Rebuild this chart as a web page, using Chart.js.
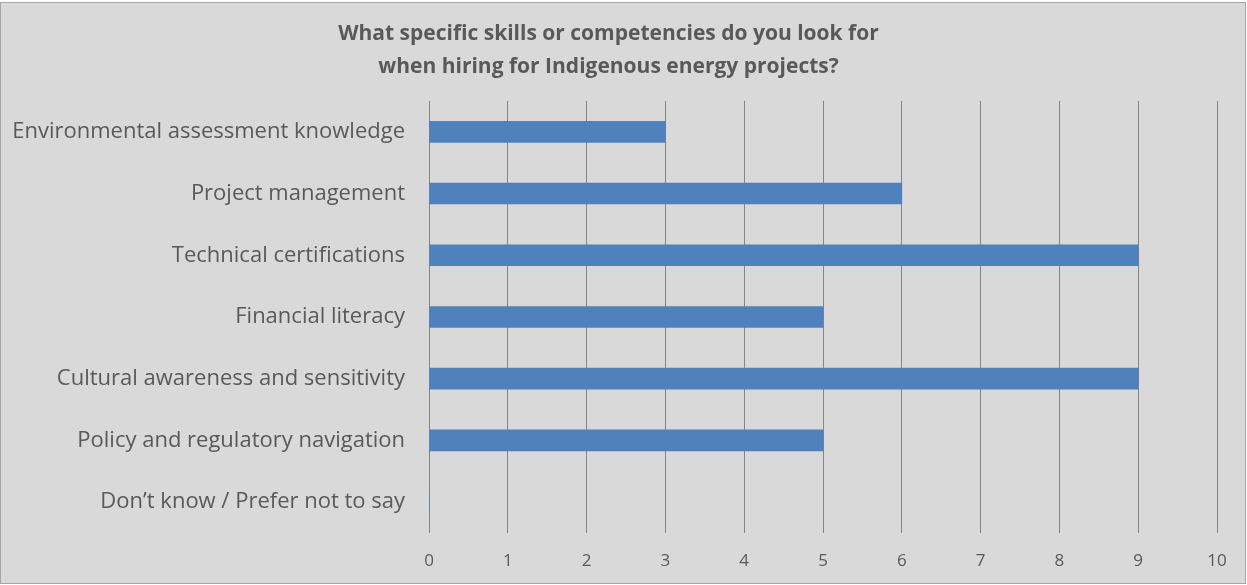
<!DOCTYPE html>
<html>
<head>
<meta charset="utf-8">
<script src="https://cdn.jsdelivr.net/npm/chart.js@4/dist/chart.umd.min.js"></script>
<style>
  html, body { margin: 0; padding: 0; background: #fff; }
  #wrap { width: 1247px; height: 585px; }
</style>
</head>
<body>
<div id="wrap"><canvas id="skillsChart" width="1247" height="585"></canvas></div>
<script>
// 回答データ
const skills = [
  "Environmental assessment knowledge",
  "Project management",
  "Technical certifications",
  "Financial literacy",
  "Cultural awareness and sensitivity",
  "Policy and regulatory navigation",
  "Don\u2019t know / Prefer not to say"
];
const counts = [3, 6, 9, 5, 9, 5, 0];
const xTicks = [0, 1, 2, 3, 4, 5, 6, 7, 8, 9, 10];

const textColor = "#595959";
const fontFamily = "'Open Sans', sans-serif";

// 背景と枠線
const frame = {
  id: "frame",
  beforeDraw(chart) {
    const ctx = chart.ctx;
    ctx.save();
    ctx.fillStyle = "#d9d9d9";
    ctx.fillRect(1, 3, chart.width - 3, chart.height - 5);
    ctx.strokeStyle = "#a6a6a6";
    ctx.lineWidth = 1;
    ctx.strokeRect(0.5, 2.5, chart.width - 2, chart.height - 4);
    ctx.restore();
  }
};

new Chart(document.getElementById("skillsChart"), {
  type: "bar",
  data: {
    labels: skills,
    datasets: [{
      data: counts,
      backgroundColor: "#4f81bd",
      barThickness: 21
    }]
  },
  plugins: [frame],
  options: {
    indexAxis: "y",
    responsive: false,
    animation: false,
    layout: { padding: { left: 0, right: 30, top: 0, bottom: 0 } },
    plugins: {
      legend: { display: false },
      tooltip: { enabled: false },
      title: {
        display: true,
        text: ["What specific skills or competencies do you look for", "when hiring for Indigenous energy projects?"],
        color: textColor,
        font: { family: fontFamily, size: 21, weight: "bold", lineHeight: 1.57 },
        padding: { top: 18, bottom: 17 }
      }
    },
    scales: {
      x: {
        min: 0,
        max: 10,
        afterBuildTicks(scale) { scale.ticks = xTicks.map(v => ({ value: v })); },
        afterFit(scale) { scale.height = 52; },
        grid: { color: "#858585", drawTicks: false },
        border: { display: false },
        ticks: { color: textColor, padding: 18, font: { family: fontFamily, size: 17 } }
      },
      y: {
        afterFit(scale) { scale.width = 429; },
        grid: { display: false, drawTicks: false },
        border: { display: false },
        ticks: { color: textColor, padding: 24, font: { family: fontFamily, size: 22 } }
      }
    }
  }
});
</script>
</body>
</html>
